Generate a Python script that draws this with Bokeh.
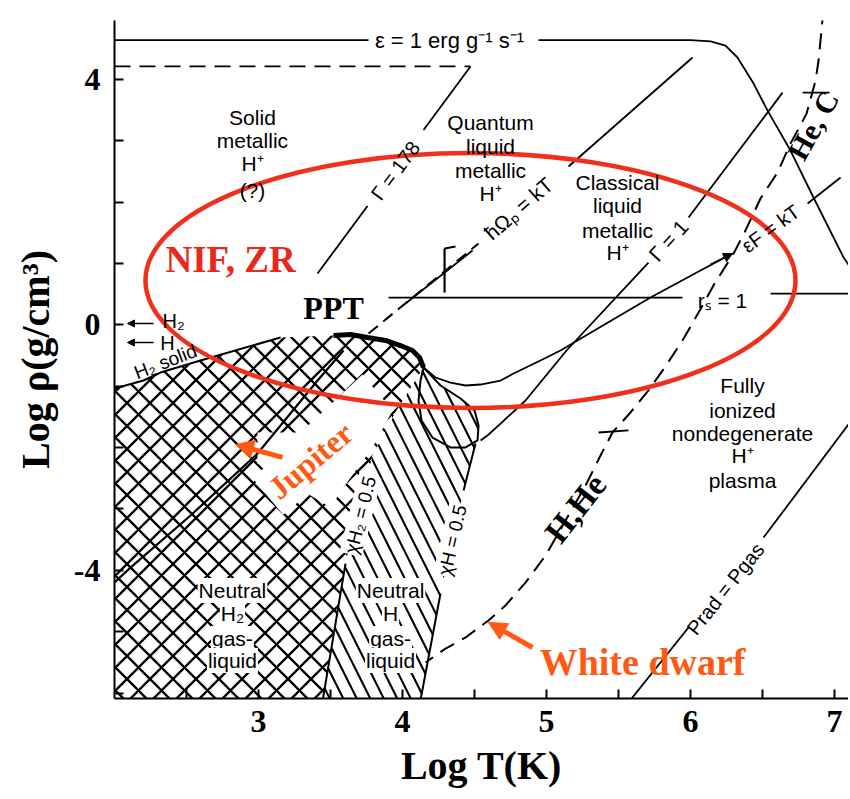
import math
from bokeh.plotting import figure
from bokeh.models import Range1d, FixedTicker, CustomJSTickFormatter, Arrow, NormalHead
from bokeh.embed import file_html
from bokeh.resources import INLINE
from bokeh.core.properties import value

# ---------------- data (log T [K], log rho [g/cm^3]) ----------------
x_ticks = [2.5, 3, 3.5, 4, 4.5, 5, 5.5, 6, 6.5, 7]
y_ticks = [-6, -5, -4, -3, -2, -1, 0, 1, 2, 3, 4]

eps1_x = [2.0, 3.764]
eps1_y = [4.64, 4.64]
eps2_x = [4.944, 6.00, 6.14, 6.243, 6.326, 6.438, 6.535, 6.694, 6.854, 7.063, 7.12]
eps2_y = [4.64, 4.64, 4.62, 4.55, 4.356, 3.931, 3.491, 2.840, 2.075, 1.097, 0.90]

degen_x = [2.0, 4.472]
degen_y = [4.21, 4.21]

g178a_x = [3.41, 3.757]
g178a_y = [0.836, 1.938]
g178b_x = [4.146, 4.472]
g178b_y = [3.174, 4.209]

hw_lo_x = [3.764, 4.528]
hw_lo_y = [-0.141, 1.325]
hw_hi_x = [5.153, 6.014]
hw_hi_y = [2.58, 4.356]

kink_v_x = [4.292, 4.292]
kink_v_y = [1.244, 0.527]
kink_t_x = [4.292, 4.368]
kink_t_y = [1.244, 1.276]
kink_d_x = [4.021, 4.486]
kink_d_y = [0.347, 1.211]

rs1_x = [3.903, 5.944]
rs1_y = [0.445, 0.445]
rs2_x = [6.556, 7.12]
rs2_y = [0.51, 0.51]

g1a_x = [6.639, 5.986]
g1a_y = [3.784, 1.749]
g1b_x = [5.708, 5.139, 4.854, 4.681, 4.590, 4.542]
g1b_y = [1.015, -0.418, -1.233, -1.608, -1.803, -1.884]

c_x = [4.146, 4.229, 4.333, 4.438, 4.542, 4.681, 4.771, 4.958, 5.097, 5.25, 5.722, 6.069, 6.292]
c_y = [-0.695, -0.858, -0.940, -0.988, -0.972, -0.907, -0.793, -0.581, -0.418, -0.206, 0.445, 0.885, 1.162]
c2_x = [6.813, 7.042]
c2_y = [1.977, 2.401]

ppt_x = [3.521, 3.639, 3.757, 3.882, 3.986, 4.069, 4.118, 4.146]
ppt_y = [-0.173, -0.157, -0.205, -0.254, -0.337, -0.418, -0.532, -0.695]

h2s_x = [2.0, 2.201, 2.319, 2.597, 3.153]
h2s_y = [-1.037, -0.907, -0.777, -0.581, -0.205]

jup_x = [3.590, 3.410, 2.993, 2.528, 2.111, 2.0]
jup_y = [-0.418, -0.907, -2.096, -3.107, -3.955, -4.199]

chi2_x = [3.44, 3.604]
chi2_y = [-6.2, -3.890]
chia_x = [4.507, 4.424]
chia_y = [-1.933, -2.700]
chib_x = [4.264, 4.118]
chib_y = [-4.377, -6.2]

prada_x = [5.58, 5.986]
prada_y = [-6.12, -4.931]
pradb_x = [6.507, 7.12]
pradb_y = [-3.466, -1.55]

wd_x = [6.924, 6.889, 6.868, 6.806, 6.694, 6.604, 6.486, 6.375, 6.299, 6.167, 6.056,
        5.944, 5.826, 5.708, 5.583, 5.458, 5.375, 5.271, 5.132, 4.993, 4.854, 4.715,
        4.597, 4.438, 4.299, 4.160]
wd_y = [5.154, 4.307, 3.979, 3.442, 2.953, 2.481, 2.058, 1.504, 1.162, 0.673, 0.201,
        -0.255, -0.678, -1.069, -1.428, -1.754, -2.129, -2.618, -3.189, -3.759, -4.199,
        -4.573, -4.817, -5.094, -5.274, -5.502]
tick1_x = [6.778, 6.965]
tick1_y = [3.784, 3.784]
tick2_x = [5.361, 5.569]
tick2_y = [-1.754, -1.72]

mol_x = [1.9, 2.0, 2.201, 2.319, 2.597, 3.153, 3.521, 3.757, 3.986, 4.104, 4.146,
         3.951, 3.792, 3.604, 3.44, 1.9]
mol_y = [-1.10, -1.037, -0.907, -0.777, -0.581, -0.205, -0.173, -0.205, -0.337, -0.467,
         -0.695, -1.429, -2.129, -3.890, -6.2, -6.2]

atom_x = [4.146, 4.264, 4.403, 4.5, 4.528, 4.521, 4.507, 4.424, 4.264, 4.118, 3.44,
          3.604, 3.792, 3.951]
atom_y = [-0.695, -0.988, -1.200, -1.396, -1.640, -1.884, -1.933, -2.700, -4.377, -6.2,
          -6.2, -3.890, -2.129, -1.429]

oval_x = [4.146, 4.264, 4.403, 4.5, 4.528, 4.521, 4.438, 4.333, 4.208, 4.132, 4.111, 4.125, 4.146]
oval_y = [-0.695, -0.988, -1.200, -1.396, -1.640, -1.884, -1.998, -1.998, -1.836, -1.559,
          -1.233, -0.907, -0.695]

box_x = [2.993, 3.292, 3.722, 3.931, 3.792, 3.590, 3.5, 2.993]
box_y = [-1.755, -1.755, -0.809, -1.396, -1.998, -2.651, -2.977, -2.259]

ell_x, ell_y, ell_w, ell_h = 4.472, 0.722, 4.514, 4.155

# ---------------- figure ----------------
p = figure(width=848, height=799, x_range=Range1d(2.0, 7.097), y_range=Range1d(-6.088, 4.959),
           output_backend="svg", toolbar_location=None,
           min_border_left=114, min_border_right=0, min_border_top=20, min_border_bottom=101)
p.outline_line_color = None
p.grid.visible = False
p.background_fill_color = "white"

p.xaxis.ticker = FixedTicker(ticks=x_ticks)
p.yaxis.ticker = FixedTicker(ticks=y_ticks)
p.xaxis.formatter = CustomJSTickFormatter(code="return Number.isInteger(tick) ? tick.toFixed(0) : '';")
p.yaxis.formatter = CustomJSTickFormatter(code="return (Math.abs(tick) % 4 === 0) ? tick.toFixed(0) : '';")
for ax in (p.xaxis[0], p.yaxis[0]):
    ax.axis_line_width = 2
    ax.major_tick_line_width = 2
    ax.major_tick_in = 9
    ax.major_tick_out = 0
    ax.minor_tick_line_color = None
    ax.major_label_text_font = "Liberation Serif"
    ax.major_label_text_font_size = "32px"
    ax.major_label_text_font_style = "bold"
    ax.major_label_text_color = "black"
    ax.axis_label_text_font = "Liberation Serif"
    ax.axis_label_text_font_size = "40px"
    ax.axis_label_text_font_style = "bold"
    ax.axis_label_text_color = "black"
p.xaxis.axis_label = "Log T(K)"
p.yaxis.axis_label = "Log ρ(g/cm³)"
p.xaxis.major_label_standoff = 12
p.xaxis.axis_label_standoff = 8
p.yaxis.major_label_standoff = 14
p.yaxis.axis_label_standoff = 13

# hatched regions
p.patch(mol_x, mol_y, fill_color="white", line_color=None,
        hatch_pattern="x", hatch_scale=23, hatch_weight=2.3, hatch_color="black")
p.patch(atom_x, atom_y, fill_color="white", line_color=None,
        hatch_pattern="\\", hatch_scale=27, hatch_weight=2.1, hatch_color="black")
p.patch(box_x, box_y, fill_color="white", line_color=None)

K = "black"
def line(xs, ys, w=1.8, dash="solid"):
    p.line(xs, ys, line_color=K, line_width=w, line_dash=dash)

line(eps1_x, eps1_y); line(eps2_x, eps2_y)
line(degen_x, degen_y, dash="16 9")
line(g178a_x, g178a_y); line(g178b_x, g178b_y)
line(hw_lo_x, hw_lo_y, w=2, dash="12 7"); line(hw_hi_x, hw_hi_y)
line(kink_v_x, kink_v_y, w=2.2); line(kink_t_x, kink_t_y, w=2.2); line(kink_d_x, kink_d_y)
line(rs1_x, rs1_y); line(rs2_x, rs2_y)
line(g1a_x, g1a_y); line(g1b_x, g1b_y)
line(c_x, c_y); line(c2_x, c2_y)
line(h2s_x, h2s_y, w=2)
line(jup_x, jup_y, w=2.2)
line(chi2_x, chi2_y, w=2); line(chia_x, chia_y, w=2); line(chib_x, chib_y, w=2)
line(prada_x, prada_y); line(pradb_x, pradb_y)
line(wd_x, wd_y, w=2, dash="16 9")
line(tick1_x, tick1_y); line(tick2_x, tick2_y)
line(oval_x, oval_y, w=2)
line(ppt_x, ppt_y, w=5)

# red ellipse
p.ellipse(x=[ell_x], y=[ell_y], width=[ell_w], height=[ell_h], fill_color=None,
          line_color="#f0301c", line_width=4.5)

def txt(x, y, s, size=21, angle=0, font="Liberation Sans", style="normal", color="black", bg=None, pad=1):
    kw = {}
    if bg is not None:
        kw = dict(background_fill_color=bg, padding=pad)
    p.text(x=x if isinstance(x, list) else [x], y=y if isinstance(y, list) else [y],
           text=s if isinstance(s, list) else [s], angle=math.radians(angle),
           text_font=value(font), text_font_size=f"{size}px", text_font_style=style,
           text_color=color, text_align="center", text_baseline="middle", **kw)

# region labels
txt([2.958] * 4, [3.379, 3.004, 2.629, 2.19], ["Solid", "metallic", "H⁺", "(?)"])
txt([4.611] * 4, [3.295, 2.904, 2.513, 2.138], ["Quantum", "liquid", "metallic", "H⁺"])
txt([5.493] * 4, [2.319, 1.944, 1.537, 1.178], ["Classical", "liquid", "metallic", "H⁺"])
txt([6.361] * 5, [-0.988, -1.396, -1.770, -2.129, -2.536],
    ["Fully", "ionized", "nondegenerate", "H⁺", "plasma"])
txt([2.819] * 4, [-4.328, -4.703, -5.111, -5.469], ["Neutral", "H₂", "gas-", "liquid"], bg="white")
txt([3.917] * 4, [-4.328, -4.703, -5.111, -5.469], ["Neutral", "H", "gas-", "liquid"], bg="white")

# line labels
txt(4.326, 4.633, "ε = 1 erg g⁻¹ s⁻¹", size=22)
txt(3.951, 2.512, "Γ = 178", size=20, angle=53.5)
txt(4.806, 1.895, "ħΩₚ = kT", size=21, angle=41)
txt(5.847, 1.374, "Γ = 1", size=21, angle=48)
txt(6.556, 1.569, "εF = kT", size=20, angle=36)
txt(6.222, 0.396, "rₛ = 1", size=21)
txt(3.708, -3.10, "χH₂ = 0.5", size=19, angle=76, bg="white")
txt(4.347, -3.51, "χH = 0.5", size=19, angle=77, bg="white")
txt(6.243, -4.30, "Prad = Pgas", size=20, angle=51.5)
txt(2.41, 0.07, "H₂", size=20)
txt(2.368, -0.288, "H", size=20)
txt(2.354, -0.60, "H₂ solid", size=19, angle=21)

# bold annotations
txt(2.806, 1.06, "NIF, ZR", size=37, font="Liberation Serif", style="bold", color="#e8281a")
txt(3.521, 0.282, "PPT", size=32, font="Liberation Serif", style="bold")
txt(3.361, -2.21, "Jupiter", size=32, angle=40, font="Liberation Serif", style="bold",
    color="#ff5a14", bg="white", pad=6)
txt(5.667, -5.50, "White dwarf", size=38, font="Liberation Serif", style="bold", color="#ff5a14")
txt(5.201, -2.99, "H,He", size=34, angle=52, font="Liberation Serif", style="bold")
txt(6.85, 3.25, "He, C", size=30, angle=61, font="Liberation Serif", style="bold")

# arrows
OR = "#ff5a14"
p.add_layout(Arrow(end=NormalHead(size=18, fill_color=OR, line_color=OR), line_color=OR, line_width=5,
                   x_start=3.167, y_start=-2.16, x_end=2.840, y_end=-1.95))
p.add_layout(Arrow(end=NormalHead(size=18, fill_color=OR, line_color=OR), line_color=OR, line_width=5,
                   x_start=4.903, y_start=-5.257, x_end=4.597, y_end=-4.85))
for yy in (0.022, -0.288):
    p.add_layout(Arrow(end=NormalHead(size=7, fill_color=K, line_color=K), line_color=K, line_width=1.5,
                       x_start=2.271, y_start=yy, x_end=2.09, y_end=yy))
p.add_layout(Arrow(end=NormalHead(size=9, fill_color=K, line_color=K), line_color=K, line_width=1.8,
                   x_start=6.139, y_start=0.983, x_end=6.292, y_end=1.162))

open("out.html", "w").write(file_html(p, INLINE))
